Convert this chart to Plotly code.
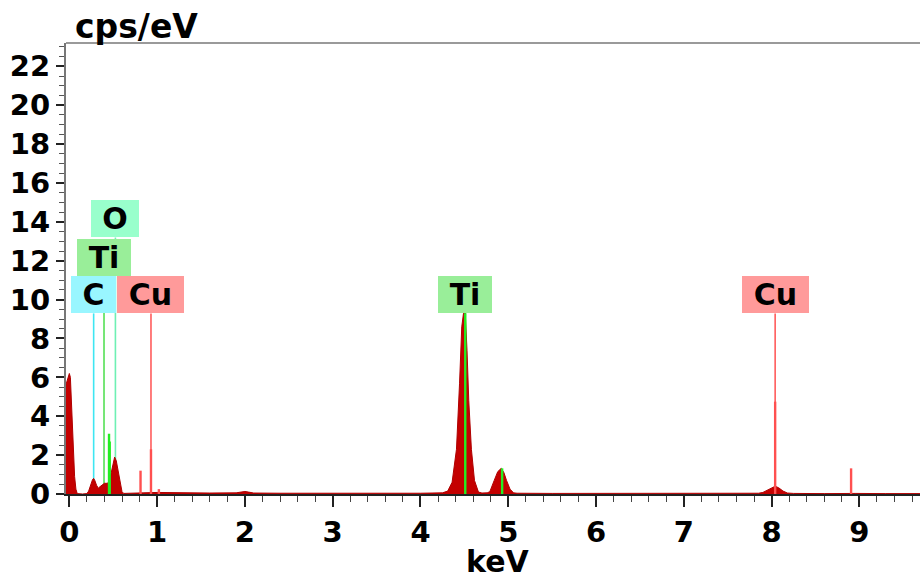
import plotly.graph_objects as go

# ---------------- data ----------------
energy_kev = [
    -0.04, -0.01, 0.0, 0.012, 0.023, 0.033, 0.042, 0.05, 0.06, 0.075, 0.09,
    0.15, 0.2, 0.22, 0.245, 0.265, 0.277, 0.29, 0.31, 0.33, 0.35, 0.37, 0.4,
    0.43, 0.45, 0.465, 0.48, 0.5, 0.516, 0.535, 0.555, 0.57, 0.585, 0.6, 0.62,
    0.7, 0.85, 1.0, 1.3, 1.6, 1.9, 1.96, 2.0, 2.04, 2.1, 2.4, 3.0, 3.5, 4.0,
    4.25, 4.31, 4.36, 4.41, 4.445, 4.47, 4.49, 4.51, 4.53, 4.55, 4.58, 4.615,
    4.66, 4.7, 4.76, 4.79, 4.84, 4.88, 4.92, 4.95, 4.98, 5.02, 5.06, 5.1, 5.5,
    6.0, 6.5, 7.0, 7.5, 7.85, 7.9, 7.95, 8.0, 8.04, 8.08, 8.13, 8.18, 8.25,
    8.6, 8.88, 8.92, 8.96, 9.3, 9.7,
]
cps_per_ev = [
    5.6, 6.1, 6.2, 6.0, 4.8, 3.6, 2.6, 1.8, 0.9, 0.25, 0.02,
    0.0, 0.02, 0.15, 0.5, 0.75, 0.8, 0.7, 0.45, 0.3, 0.38, 0.45, 0.55,
    0.55, 0.6, 0.85, 1.2, 1.65, 1.9, 1.7, 1.2, 0.75, 0.4, 0.12, 0.03,
    0.05, 0.06, 0.08, 0.06, 0.05, 0.06, 0.1, 0.13, 0.1, 0.05, 0.04, 0.03, 0.03, 0.04,
    0.06, 0.15, 0.6, 2.3, 5.7, 8.6, 9.3, 9.3, 7.4, 4.8, 2.3, 0.7,
    0.1, 0.05, 0.06, 0.12, 0.7, 1.15, 1.32, 1.1, 0.7, 0.25, 0.06, 0.04, 0.03,
    0.03, 0.02, 0.02, 0.03, 0.04, 0.08, 0.2, 0.33, 0.4, 0.32, 0.15, 0.05, 0.03,
    0.02, 0.03, 0.06, 0.03, 0.02, 0.02,
]

# element marker lines (labelled boxes)
marker_labels = ["C", "Ti", "O", "Cu", "Ti", "Cu"]
marker_energy = [0.277, 0.395, 0.525, 0.930, 4.510, 8.040]
marker_top = [9.29, 11.24, 13.2, 9.29, 9.29, 9.29]   # cps/eV at box bottom

# intensity spikes of the individual lines
spike_element = ["Ti", "Ti", "Cu", "Cu", "Cu", "Ti", "Ti", "Cu", "Cu"]
spike_energy = [0.452, 0.460, 0.811, 0.930, 1.020, 4.510, 4.930, 8.040, 8.905]
spike_height = [3.1, 2.7, 1.2, 2.3, 0.25, 9.3, 1.32, 4.75, 1.32]

x_ticks = [0, 1, 2, 3, 4, 5, 6, 7, 8, 9]
y_ticks = [0, 2, 4, 6, 8, 10, 12, 14, 16, 18, 20, 22]

# ---------------- styles ----------------
FONT = "DejaVu Sans"
line_color = {"C": "#3ee6f2", "Ti": "#55e055", "O": "#6ef0b4", "Cu": "#ff5c5c"}
box_color = {"C": "#99f6ff", "Ti": "#99ee99", "O": "#99ffcc", "Cu": "#ff9a9a"}
box_width = {"C": 45, "Ti": 54, "O": 48, "Cu": 67}
spike_color = {"Ti": "#22ee22", "Cu": "#ff5050"}

fig = go.Figure()

# thin marker lines (behind the spectrum)
for lab, e, top in zip(marker_labels, marker_energy, marker_top):
    fig.add_trace(go.Scatter(
        x=[e, e], y=[0, top], mode="lines",
        line=dict(color=line_color[lab], width=1.6),
        hoverinfo="skip", showlegend=False,
    ))

# spectrum
fig.add_trace(go.Scatter(
    x=energy_kev, y=cps_per_ev, mode="lines", fill="tozeroy",
    fillcolor="#c40000", line=dict(color="#b00000", width=1),
    showlegend=False,
))

# intensity spikes (on top)
for el, e, h in zip(spike_element, spike_energy, spike_height):
    fig.add_trace(go.Scatter(
        x=[e, e], y=[0, h], mode="lines",
        line=dict(color=spike_color[el], width=2.4),
        hoverinfo="skip", showlegend=False,
    ))

# label boxes
for lab, e, top in zip(marker_labels, marker_energy, marker_top):
    fig.add_annotation(
        x=e, y=top, xref="x", yref="y", text=lab, showarrow=False,
        xanchor="center", yanchor="bottom", bgcolor=box_color[lab],
        width=box_width[lab], height=37, borderpad=0, borderwidth=0,
        font=dict(family=FONT, size=30, color="black", weight="bold"),
    )

# y-axis unit title
fig.add_annotation(
    x=0, y=1, xref="paper", yref="paper", xanchor="left", yanchor="bottom",
    xshift=7, yshift=-5, text="cps/eV", showarrow=False,
    font=dict(family=FONT, size=33, color="black", weight="bold"),
)

# x-axis title
fig.add_annotation(
    x=0.5, y=0, xref="paper", yref="paper", xanchor="center", yanchor="middle",
    xshift=4, yshift=-67, text="keV", showarrow=False,
    font=dict(family=FONT, size=30, color="black", weight="bold"),
)

# top frame line
fig.add_shape(type="line", xref="paper", yref="paper", x0=0, x1=1, y0=1, y1=1,
              line=dict(color="#9a9a9a", width=2))

tickfont = dict(family=FONT, size=29, color="black", weight="bold")
fig.update_layout(
    width=920, height=580,
    margin=dict(l=66, r=0, t=43, b=86),
    paper_bgcolor="white", plot_bgcolor="white",
    showlegend=False,
    xaxis=dict(
        range=[-0.038, 9.69], tickvals=x_ticks, ticktext=[str(v) for v in x_ticks],
        ticks="outside", ticklen=11, tickwidth=1.5, tickcolor="#222",
        minor=dict(dtick=0.2, tick0=0, ticks="outside", ticklen=6, tickwidth=1, tickcolor="#444"),
        showline=True, linecolor="#222", linewidth=2, showgrid=False, zeroline=False,
        tickfont=tickfont, automargin=False,
    ),
    yaxis=dict(
        range=[0, 23.2], tickvals=y_ticks, ticktext=[str(v) for v in y_ticks],
        ticks="outside", ticklen=8, tickwidth=1.5, tickcolor="#222",
        minor=dict(dtick=0.5, tick0=0, ticks="outside", ticklen=5, tickwidth=1, tickcolor="#555"),
        showline=True, linecolor="#777", linewidth=2, showgrid=False, zeroline=False,
        tickfont=tickfont, automargin=False,
    ),
)

# remove the default 8px page margin so the figure fills the window exactly
fig.write_html(
    "out.html",
    config={"displayModeBar": False},
    post_script="document.body.style.margin='0';document.body.style.overflow='hidden';",
)
